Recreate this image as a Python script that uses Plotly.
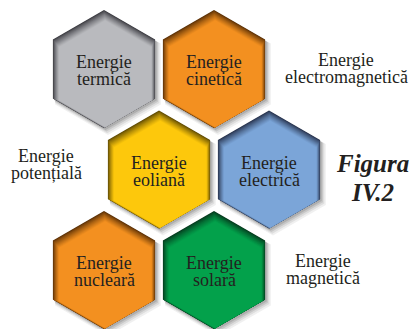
import plotly.graph_objects as go

# honeycomb cells, in reading order (row, col)
hex_labels = [["Energie", "termică"], ["Energie", "cinetică"],
              ["Energie", "eoliană"], ["Energie", "electrică"],
              ["Energie", "nucleară"], ["Energie", "solară"]]
hex_rows = [0, 0, 1, 1, 2, 2]
hex_cols = [0, 1, 0, 1, 0, 1]
hex_base = ["#B9BABE", "#F39020", "#FDC80C", "#7BA5D8", "#F39020", "#03A14B"]
hex_dark = ["#3A3A40", "#5A3006", "#5E4A04", "#27324C", "#5A3006", "#063A1E"]

side_labels = [["Energie", "electromagnetică"], ["Energie", "potențială"],
               ["Energie", "magnetică"]]
side_pos = [(346, 66), (46, 162), (323, 267)]   # centre x, first baseline

title_lines = ["Figura", "IV.2"]

R = 59.0
X0, Y0, DX, DY = 104, 69, 110, 100.5
FONT = "Liberation Serif, Times New Roman, serif"
INK = "#231F20"


def hex_pts(cx, cy, r):
    hw = r * 0.8660254
    xs = [cx, cx + hw, cx + hw, cx, cx - hw, cx - hw, cx]
    ys = [cy - r, cy - r / 2, cy + r / 2, cy + r, cy + r / 2, cy - r / 2, cy - r]
    return xs, ys


def mix(c1, c2, t):
    a = [int(c1[i:i + 2], 16) for i in (1, 3, 5)]
    b = [int(c2[i:i + 2], 16) for i in (1, 3, 5)]
    return "rgb(%d,%d,%d)" % tuple(round(a[i] + (b[i] - a[i]) * t) for i in range(3))


fig = go.Figure()
centres = []
for r, c in zip(hex_rows, hex_cols):
    centres.append((X0 + c * DX + (DX / 2 if r % 2 else 0), Y0 + r * DY))

# drop shadows first
for cx, cy in centres:
    for off, grow, alpha in [(5, 2.0, 0.06), (4, 1.2, 0.08), (3, 0.5, 0.10), (2, 0.0, 0.12)]:
        xs, ys = hex_pts(cx + off * 0.8, cy + off, R + grow)
        fig.add_trace(go.Scatter(x=xs, y=ys, mode="lines", fill="toself",
                                 fillcolor="rgba(0,0,0,%.2f)" % alpha,
                                 line=dict(width=0), hoverinfo="skip"))

# hexagons with inner shadow along the top edges
N, d = 14, 0.33
for (cx, cy), base, dark in zip(centres, hex_base, hex_dark):
    for k in range(N + 1):
        t = (k / N) ** 0.75
        xs, ys = hex_pts(cx + 0.25 * k * d, cy + k * d, R - 1.2 * k * d)
        fig.add_trace(go.Scatter(x=xs, y=ys, mode="lines", fill="toself",
                                 fillcolor=mix(dark, base, t),
                                 line=dict(width=0), hoverinfo="skip"))

ann = []
LINE = 17
for (cx, cy), lines in zip(centres, hex_labels):
    for i, s in enumerate(lines):
        ann.append(dict(x=cx, y=cy - 7 + i * LINE, text=s, showarrow=False,
                        xanchor="center", yanchor="middle",
                        font=dict(family=FONT, size=18, color=INK)))
for (x, y), lines in zip(side_pos, side_labels):
    for i, s in enumerate(lines):
        ann.append(dict(x=x, y=y - 6 + i * LINE, text=s, showarrow=False,
                        xanchor="center", yanchor="middle",
                        font=dict(family=FONT, size=18, color=INK)))
for i, s in enumerate(title_lines):
    ann.append(dict(x=372, y=163 + i * 29, text="<b><i>%s</i></b>" % s, showarrow=False,
                    xanchor="center", yanchor="middle",
                    font=dict(family=FONT, size=25, color=INK)))

fig.update_layout(
    width=410, height=329, autosize=False,
    margin=dict(l=0, r=0, t=0, b=0),
    paper_bgcolor="white", plot_bgcolor="white",
    showlegend=False,
    xaxis=dict(range=[0, 410], visible=False, fixedrange=True),
    yaxis=dict(range=[329, 0], visible=False, fixedrange=True),
    annotations=ann,
)

fig.write_html("out.html", config=dict(displayModeBar=False),
               post_script="document.body.style.margin='0';")
